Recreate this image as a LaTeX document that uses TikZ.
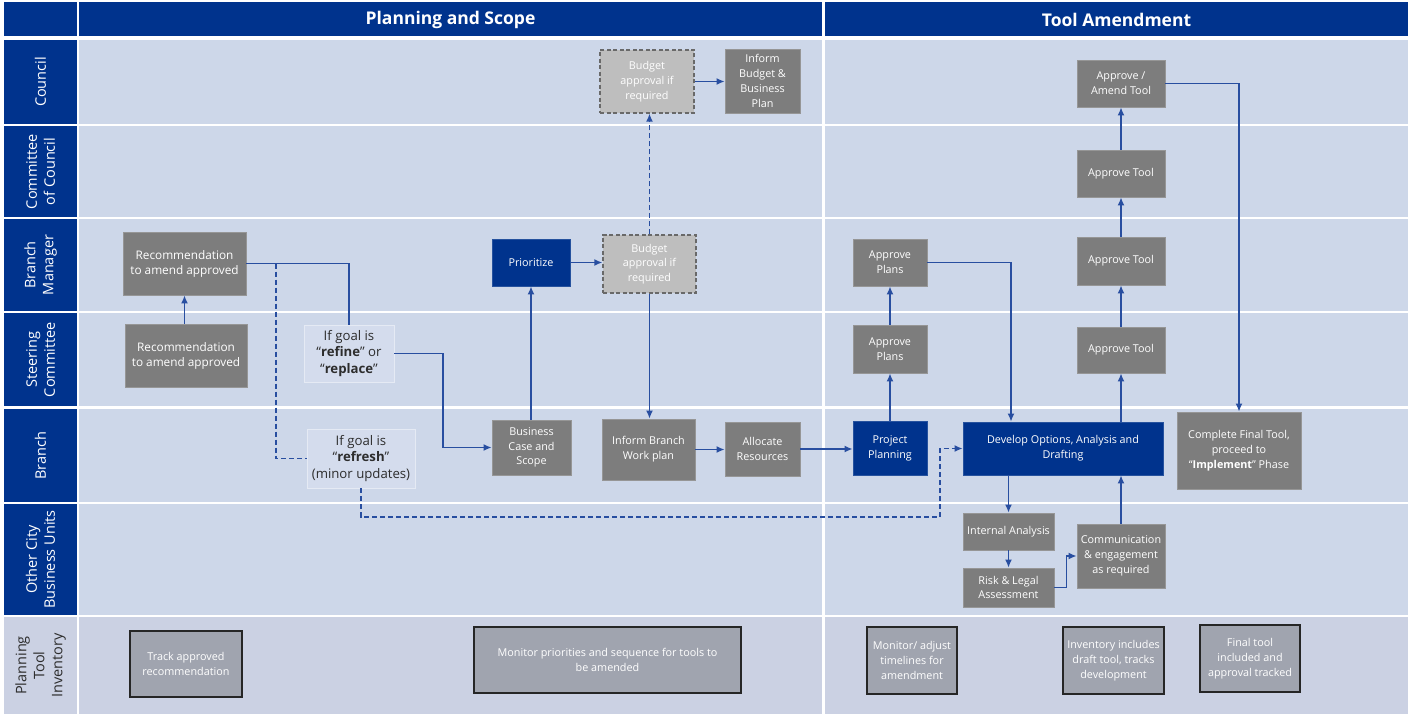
\documentclass[tikz,border=0pt]{standalone}
\usepackage{fontspec}
\setmainfont{Open Sans}
\usetikzlibrary{arrows.meta}
\definecolor{hdr}{RGB}{0,51,141}
\definecolor{lane}{RGB}{205,215,233}
\definecolor{invlane}{RGB}{203,209,227}
\definecolor{nodegray}{RGB}{125,125,125}
\definecolor{nodeedge}{RGB}{150,150,150}
\definecolor{navy}{RGB}{0,51,141}
\definecolor{budgetfill}{RGB}{190,190,190}
\definecolor{dashgray}{RGB}{105,105,105}
\definecolor{conn}{RGB}{40,78,160}
\definecolor{invfill}{RGB}{160,164,175}
\definecolor{condfill}{RGB}{212,220,237}
\definecolor{txtdark}{RGB}{45,45,45}
\tikzset{
 base/.style={inner sep=0pt, align=center, font=\fontsize{10.8}{14.8}\selectfont, text=white},
 gbox/.style={base, fill=nodegray, draw=nodeedge, line width=0.8pt},
 bbox/.style={base, fill=navy, draw=navy!85!white, line width=0.8pt},
 dbox/.style={base, fill=budgetfill, draw=dashgray, line width=1.3pt, dash pattern=on 4pt off 2.5pt},
 cbox/.style={base, fill=condfill, draw=white!40!condfill, line width=0.8pt, text=txtdark, font=\fontsize{13.2}{16.5}\selectfont},
 ibox/.style={base, fill=invfill, draw=black!85, line width=1.7pt},
 flow/.style={draw=conn, line width=1.5pt},
 arr/.style={flow, -{Latex[length=8pt,width=7pt]}},
 dflow/.style={flow, dash pattern=on 5pt off 3pt},
 lanelbl/.style={rotate=90, text=white, align=center, font=\fontsize{14.5}{18}\selectfont},
 hdrtext/.style={text=white, font=\fontsize{17.5}{20}\selectfont\bfseries},
}
\begin{document}
\begin{tikzpicture}[x=1pt,y=-1pt]
\useasboundingbox (0,0) rectangle (1408,714);
\fill[white] (0,0) rectangle (1408,714);
% header
\fill[hdr] (4,2) rectangle (77,36);
\fill[hdr] (79,2) rectangle (822,36);
\fill[hdr] (825,2) rectangle (1408,36);
\node[hdrtext] (h1) at (450.5,19.5) {Planning and Scope};
\node[hdrtext] (h2) at (1116.5,19.5) {Tool Amendment};
% lanes
\foreach \ya/\yb in {40/124,126/217,219/311,313/406,409/502,504/615}{
  \fill[hdr] (4,\ya) rectangle (77,\yb);
  \fill[lane] (79,\ya) rectangle (822,\yb);
  \fill[lane] (825,\ya) rectangle (1408,\yb);
}
\fill[invlane] (4,617) rectangle (77,714);
\fill[invlane] (79,617) rectangle (822,714);
\fill[invlane] (825,617) rectangle (1408,714);
\node[lanelbl] (l1) at (40.5,82) {Council};
\node[lanelbl] (l2) at (40.5,171.5) {Committee\\of Council};
\node[lanelbl] (l3) at (40.5,265) {Branch\\Manager};
\node[lanelbl] (l4) at (40.5,359.5) {Steering\\Committee};
\node[lanelbl] (l5) at (40.5,455.5) {Branch};
\node[lanelbl] (l6) at (40.5,559.5) {Other City\\Business Units};
\node[lanelbl, text=txtdark] (l7) at (40.5,665.5) {Planning\\Tool\\Inventory};

% Planning and Scope nodes
\node[gbox, minimum width=123pt, minimum height=63pt, font=\fontsize{11.8}{15}\selectfont] (rec1) at (184.5,263.5) {Recommendation\\to amend approved};
\node[gbox, minimum width=122pt, minimum height=63pt, font=\fontsize{11.8}{15}\selectfont] (rec2) at (186,355.5) {Recommendation\\to amend approved};
\node[cbox, minimum width=90pt, minimum height=57pt] (refine) at (349,353.5) {If goal is\\“\textbf{refine}” or\\“\textbf{replace}”};
\node[cbox, minimum width=108pt, minimum height=59pt] (refresh) at (361,458.5) {If goal is\\“\textbf{refresh}”\\(minor updates)};
\node[gbox, minimum width=79pt, minimum height=55pt] (biz) at (531.5,447.5) {Business\\Case and\\Scope};
\node[bbox, minimum width=78pt, minimum height=47pt] (prio) at (531,262.5) {Prioritize};
\node[dbox, minimum width=93pt, minimum height=58pt] (budbm) at (649.5,264) {Budget\\approval if\\required};
\node[dbox, minimum width=94pt, minimum height=63pt] (budc) at (647,81.5) {Budget\\approval if\\required};
\node[gbox, minimum width=75pt, minimum height=64pt] (infbud) at (762.5,81) {Inform\\Budget \&\\Business\\Plan};
\node[gbox, minimum width=93pt, minimum height=61pt] (infbr) at (648.5,449.5) {Inform Branch\\Work plan};
\node[gbox, minimum width=75pt, minimum height=54pt] (alloc) at (762.5,449) {Allocate\\Resources};

% Tool Amendment nodes
\node[bbox, minimum width=74pt, minimum height=54pt] (proj) at (890,448) {Project\\Planning};
\node[gbox, minimum width=74pt, minimum height=48pt] (apsc) at (890,349) {Approve\\Plans};
\node[gbox, minimum width=74pt, minimum height=47pt] (apbm) at (890,262.5) {Approve\\Plans};
\node[bbox, minimum width=200pt, minimum height=53pt] (dev) at (1063,448.5) {Develop Options, Analysis and\\Drafting};
\node[gbox, minimum width=91pt, minimum height=37pt] (intan) at (1008.5,531.5) {Internal Analysis};
\node[gbox, minimum width=91pt, minimum height=39pt] (risk) at (1008.5,587.5) {Risk \& Legal\\Assessment};
\node[gbox, minimum width=88pt, minimum height=64pt] (comm) at (1121,556) {Communication\\\& engagement\\as required};
\node[gbox, minimum width=88pt, minimum height=46pt] (atsc) at (1121,350) {Approve Tool};
\node[gbox, minimum width=88pt, minimum height=48pt] (atbm) at (1121,261) {Approve Tool};
\node[gbox, minimum width=88pt, minimum height=47pt] (atcc) at (1121,173.5) {Approve Tool};
\node[gbox, minimum width=88pt, minimum height=47pt] (amend) at (1121,83.5) {Approve /\\Amend Tool};
\node[gbox, minimum width=124pt, minimum height=77pt] (compl) at (1239,450.5) {Complete Final Tool,\\proceed to\\“\textbf{Implement}” Phase};

% Inventory
\node[ibox, minimum width=112pt, minimum height=66pt] (track) at (186,664) {Track approved\\recommendation};
\node[ibox, minimum width=267pt, minimum height=66pt] (monpri) at (607.5,660) {Monitor priorities and sequence for tools to\\be amended};
\node[ibox, minimum width=90pt, minimum height=67pt] (monadj) at (912,660.5) {Monitor/ adjust\\timelines for\\amendment};
\node[ibox, minimum width=101pt, minimum height=67pt] (invinc) at (1113.5,660.5) {Inventory includes\\draft tool, tracks\\development};
\node[ibox, minimum width=100pt, minimum height=67pt] (fintool) at (1250,658.5) {Final tool\\included and\\approval tracked};

% connectors - Planning and Scope
\draw[arr] (rec2.north -| rec1.south) -- (rec1.south);
\draw[flow] (rec1.east) -| (refine.north);
\coordinate (d1) at (276,263.5);
\draw[dflow] (d1) |- (refresh.west);
\coordinate (d2) at (940,517);
\draw[dflow, -{Latex[length=8pt,width=7pt]}] (refresh.south) |- (d2) |- (dev.west);
\coordinate (r1) at (443,353.5);
\draw[arr] (refine.east) -- (r1) |- (biz.west);
\draw[arr] (biz.north -| prio.south) -- (prio.south);
\draw[arr] (prio.east) -- (prio.east -| budbm.west);
\draw[dflow, -{Latex[length=8pt,width=7pt]}] (budbm.north) -- (budbm.north |- budc.south);
\draw[arr] (budc.east) -- (budc.east -| infbud.west);
\draw[arr] (budbm.south) -- (budbm.south |- infbr.north);
\draw[arr] (infbr.east) -- (infbr.east -| alloc.west);
\draw[arr] (alloc.east) -- (alloc.east -| proj.west);

% connectors - Tool Amendment
\draw[arr] (proj.north) -- (apsc.south);
\draw[arr] (apsc.north) -- (apbm.south);
\coordinate (dv) at (1011,0);
\draw[arr] (apbm.east) -| (dv |- dev.north);
\draw[arr] (intan.north |- dev.south) -- (intan.north);
\draw[arr] (intan.south) -- (risk.north);
\draw[arr] (risk.east) -- ++(12,0) |- (comm.west);
\draw[arr] (comm.north) -- (comm.north |- dev.south);
\draw[arr] (atsc.south |- dev.north) -- (atsc.south);
\draw[arr] (atsc.north) -- (atbm.south);
\draw[arr] (atbm.north) -- (atcc.south);
\draw[arr] (atcc.north) -- (amend.south);
\draw[arr] (amend.east) -| (compl.north);
\end{tikzpicture}
\end{document}
